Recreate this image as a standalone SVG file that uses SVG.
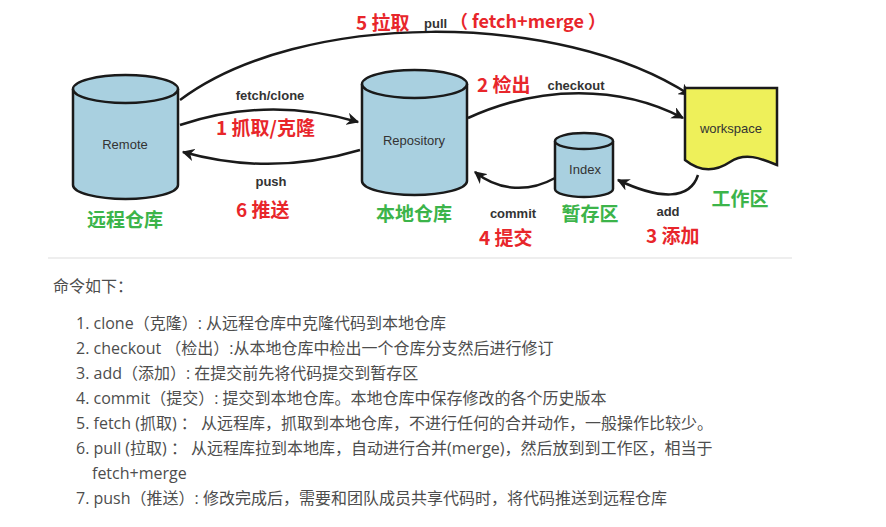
<svg xmlns="http://www.w3.org/2000/svg" width="886" height="527" viewBox="0 0 886 527">
<style>
.cyl{fill:#a9d0e0;stroke:#1a1a1a;stroke-width:2.5}
.lab{font-family:"Liberation Sans",sans-serif;font-size:13px;fill:#333;text-anchor:middle}
.arl{font-family:"Liberation Sans",sans-serif;font-size:13px;font-weight:bold;fill:#333;text-anchor:middle}
.red{font-family:"Noto Sans CJK SC",sans-serif;font-size:19px;font-weight:bold;fill:#e8262b}
.grn{font-family:"Noto Sans CJK SC",sans-serif;font-size:19px;font-weight:bold;fill:#3cb44a;text-anchor:middle}
.txt{font-family:"Open Sans","Noto Sans CJK SC",sans-serif;font-size:16px;fill:#4d4d4d}
.ln{fill:none;stroke:#1a1a1a;stroke-width:2.5;marker-end:url(#ah)}
</style>
<defs>
<marker id="ah" viewBox="0 0 10 10" refX="9" refY="5" markerWidth="5" markerHeight="5" orient="auto" markerUnits="strokeWidth"><path d="M0,0 L10,5 L0,10 L3,5 Z" fill="#1a1a1a"/></marker>
</defs>
<rect width="886" height="527" fill="#fff"/>
<g id="connectors">
<path class="ln" d="M180,100 C300,10 560,10 690,95"/>
<path class="ln" d="M180,125 C240,105 300,105 358,122"/>
<path class="ln" d="M360,150 C300,168 240,168 183,152"/>
<path class="ln" d="M468,118 C540,85 620,85 683,118"/>
<path class="ln" d="M555,178 C530,192 500,192 475,172"/>
<path class="ln" d="M698,175 C690,200 660,200 618,180"/>
</g>
<g id="remote">
<path class="cyl" d="M73,89 V185 A52.5,14 0 0 0 178,185 V89"/>
<ellipse class="cyl" cx="125.5" cy="89" rx="52.5" ry="14"/>
<text class="lab" x="125" y="149">Remote</text>
<text class="grn" x="125" y="227">远程仓库</text>
</g>
<g id="repository">
<path class="cyl" d="M362,84 V181 A52.5,14 0 0 0 467,181 V84"/>
<ellipse class="cyl" cx="414.5" cy="84" rx="52.5" ry="14"/>
<text class="lab" x="414" y="145">Repository</text>
<text class="grn" x="414" y="221">本地仓库</text>
</g>
<g id="index">
<path class="cyl" d="M555,141 V189 A29,8 0 0 0 613,189 V141"/>
<ellipse class="cyl" cx="584" cy="141" rx="29" ry="8"/>
<text class="lab" x="585" y="174">Index</text>
<text class="grn" x="590" y="221">暂存区</text>
</g>
<g id="workspace">
<path d="M685,88 H777 V165 C760,158 745,152 730,162 C715,172 700,172 685,160 Z" fill="#eef05a" stroke="#1a1a1a" stroke-width="2.5"/>
<text class="lab" x="731" y="133">workspace</text>
<text class="grn" x="740" y="206">工作区</text>
</g>
<g id="labels">
<text x="356" y="30" class="red">5 拉取</text>
<text x="424" y="28" style="font-family:'Liberation Sans',sans-serif;font-size:13px;font-weight:bold;fill:#333">pull</text>
<text x="450" y="28" class="red" style="font-size:18px">（ fetch+merge ）</text>
<text class="arl" x="270" y="100">fetch/clone</text>
<text class="red" x="216" y="135">1 抓取/克隆</text>
<text class="arl" x="271" y="186">push</text>
<text class="red" x="236" y="217">6 推送</text>
<text class="red" x="477" y="92">2 检出</text>
<text class="arl" x="576" y="90">checkout</text>
<text class="arl" x="513" y="218">commit</text>
<text class="red" x="479" y="245">4 提交</text>
<text class="arl" x="668" y="216">add</text>
<text class="red" x="646" y="243">3 添加</text>
</g>
<line x1="48" y1="258" x2="792" y2="258" stroke="#e8e8e8" stroke-width="1.5"/>
<g id="text">
<text class="txt" x="53" y="292">命令如下：</text>
<text class="txt" x="76" y="329">1. clone（克隆）: 从远程仓库中克隆代码到本地仓库</text>
<text class="txt" x="76" y="354">2. checkout （检出）:从本地仓库中检出一个仓库分支然后进行修订</text>
<text class="txt" x="76" y="379">3. add（添加）: 在提交前先将代码提交到暂存区</text>
<text class="txt" x="76" y="404">4. commit（提交）: 提交到本地仓库。本地仓库中保存修改的各个历史版本</text>
<text class="txt" x="76" y="429">5. fetch (抓取) ： 从远程库，抓取到本地仓库，不进行任何的合并动作，一般操作比较少。</text>
<text class="txt" x="76" y="454">6. pull (拉取) ： 从远程库拉到本地库，自动进行合并(merge)，然后放到到工作区，相当于</text>
<text class="txt" x="92" y="479">fetch+merge</text>
<text class="txt" x="76" y="504">7. push（推送）: 修改完成后，需要和团队成员共享代码时，将代码推送到远程仓库</text>
</g>
</svg>
